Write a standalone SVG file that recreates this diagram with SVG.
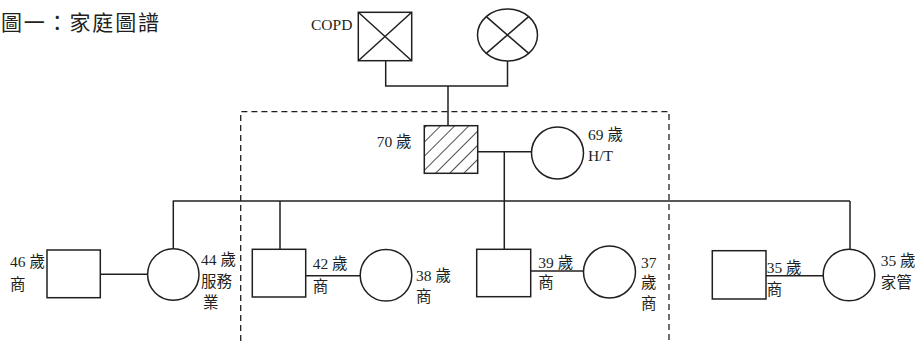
<svg xmlns="http://www.w3.org/2000/svg" width="919" height="341" viewBox="0 0 919 341">
<style>
.s{fill:none;stroke:#231f20;stroke-width:1.5}
.w{fill:#fff;stroke:#231f20;stroke-width:1.5}
.t{font-family:"Liberation Serif","Noto Sans CJK TC",serif;font-size:15.5px;fill:#231f20}
.ttl{font-family:"Noto Sans CJK TC","Noto Sans CJK SC",sans-serif;font-size:21px;fill:#231f20}
.d{fill:none;stroke:#231f20;stroke-width:1.3;stroke-dasharray:6 4}
</style>
<defs>
<pattern id="hatch" patternUnits="userSpaceOnUse" width="10" height="10" patternTransform="rotate(45)">
<rect width="10" height="10" fill="#fff"/>
<line x1="0" y1="0" x2="0" y2="10" stroke="#231f20" stroke-width="1.6"/>
</pattern>
</defs>
<rect width="919" height="341" fill="#fff"/>
<text class="ttl" x="1" y="30" textLength="158" lengthAdjust="spacing">圖一：家庭圖譜</text>
<path class="d" d="M240.7,341 V111.7 H669 V341"/>
<g id="connectors">
<path class="s" d="M385.7,60.7 V86 H507.5 V61 M448,86 V125.7"/>
<path class="s" d="M477.7,151.7 H531.5 M504.3,151.7 V249.3"/>
<path class="s" d="M172.7,201 H850 M173.3,201 V249 M280,201 V249.3 M850,201 V249.3"/>
<path class="s" d="M100.3,274.3 H147.7"/>
<path class="s" d="M305.7,275.7 H360"/>
<path class="s" d="M530.7,271 H583.3"/>
<path class="s" d="M766,275.7 H823.3"/>
</g>
<g id="grandfather">
<rect class="w" x="358.3" y="12.3" width="53.4" height="48.4"/>
<path class="s" d="M358.3,12.3 L411.7,60.7 M411.7,12.3 L358.3,60.7"/>
<text class="t" x="311" y="30">COPD</text>
</g>
<g id="grandmother">
<ellipse class="w" cx="507.5" cy="35" rx="30" ry="26"/>
<path class="s" d="M486.3,16.6 L528.7,53.4 M528.7,16.6 L486.3,53.4"/>
</g>
<g id="father">
<rect x="424.3" y="125.7" width="53.4" height="47.6" fill="url(#hatch)" stroke="#231f20" stroke-width="1.5"/>
<text class="t" x="376.7" y="147">70 歲</text>
</g>
<g id="mother">
<circle class="w" cx="557.5" cy="153" r="26"/>
<text class="t" x="588" y="140">69 歲</text>
<text class="t" x="588" y="161">H/T</text>
</g>
<g id="m46">
<rect class="w" x="47" y="250" width="53.3" height="47.7"/>
<text class="t" x="10" y="266.7">46 歲</text>
<text class="t" x="10" y="290">商</text>
</g>
<g id="f44">
<circle class="w" cx="173.3" cy="274.5" r="25.7"/>
<text class="t" x="201" y="265">44 歲</text>
<text class="t" x="201" y="287">服務</text>
<text class="t" x="203" y="308">業</text>
</g>
<g id="m42">
<rect class="w" x="252.3" y="249.3" width="53.4" height="47.7"/>
<text class="t" x="312.7" y="269">42 歲</text>
<text class="t" x="312.7" y="291.7">商</text>
</g>
<g id="f38">
<circle class="w" cx="386" cy="275.2" r="25.8"/>
<text class="t" x="416" y="280.7">38 歲</text>
<text class="t" x="416" y="301.7">商</text>
</g>
<g id="m39">
<rect class="w" x="476.7" y="249.3" width="54" height="47.4"/>
<text class="t" x="538.3" y="268.3">39 歲</text>
<text class="t" x="538.3" y="288.3">商</text>
</g>
<g id="f37">
<circle class="w" cx="609.5" cy="272" r="26"/>
<text class="t" x="641" y="268">37</text>
<text class="t" x="641" y="288">歲</text>
<text class="t" x="641" y="309">商</text>
</g>
<g id="m35">
<rect class="w" x="712.3" y="250.7" width="53.7" height="48.3"/>
<text class="t" x="766.7" y="273.3">35 歲</text>
<text class="t" x="766.7" y="295">商</text>
</g>
<g id="f35">
<circle class="w" cx="849" cy="275" r="25.8"/>
<text class="t" x="880.7" y="266">35 歲</text>
<text class="t" x="880.7" y="288">家管</text>
</g>
</svg>
